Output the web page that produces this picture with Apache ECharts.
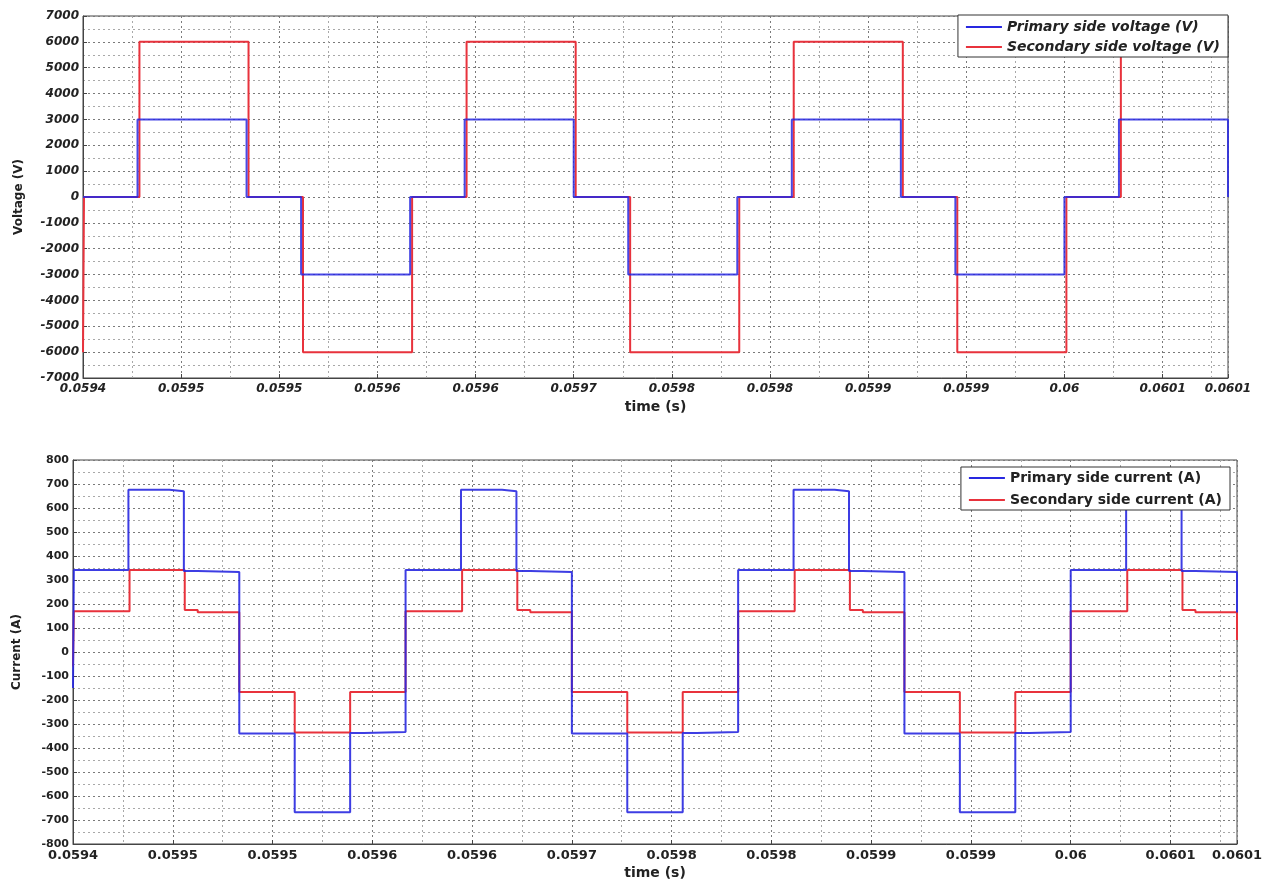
<!DOCTYPE html>
<html>
<head>
<meta charset="utf-8">
<script src="https://cdn.jsdelivr.net/npm/echarts/dist/echarts.min.js"></script>
<style>
html,body{margin:0;padding:0;background:#fff;}
#chart{width:1266px;height:884px;}
</style>
</head>
<body>
<div id="chart"></div>
<script>
// ---------- Data (time in s; step changes: value holds until next time) ----------
// Top plot: voltages
const tPrimaryV = [0.0594, 0.05943333, 0.0595, 0.05953333, 0.0596, 0.05963333, 0.0597, 0.05973333, 0.0598, 0.05983333, 0.0599, 0.05993333, 0.06, 0.06003333, 0.0601];
const primaryV  = [0, 3000, 0, -3000, 0, 3000, 0, -3000, 0, 3000, 0, -3000, 0, 3000, 0];
const tSecondaryV = [0.0594, 0.0594006, 0.0594345, 0.0595012, 0.0595345, 0.0596012, 0.0596345, 0.0597012, 0.0597345, 0.0598012, 0.0598345, 0.0599012, 0.0599345, 0.0600012, 0.0600345, 0.0601];
const secondaryV  = [-6000, 0, 6000, 0, -6000, 0, 6000, 0, -6000, 0, 6000, 0, -6000, 0, 6000, 6000];

// Bottom plot: currents
const tPrimaryI = [0.0594, 0.0594005, 0.05943333, 0.059458, 0.05946667, 0.059475, 0.0595, 0.05953333, 0.05956667, 0.059575,
                   0.0596, 0.05963333, 0.059658, 0.05966667, 0.059675, 0.0597, 0.05973333, 0.05976667, 0.059775,
                   0.0598, 0.05983333, 0.059858, 0.05986667, 0.059875, 0.0599, 0.05993333, 0.05996667, 0.059975,
                   0.06, 0.06003333, 0.060058, 0.06006667, 0.060075, 0.0601];
const primaryI  = [-150, 342, 676, 670, 338, 333, -340, -668, -338, -333,
                   342, 676, 670, 338, 333, -340, -668, -338, -333,
                   342, 676, 670, 338, 333, -340, -668, -338, -333,
                   342, 676, 670, 338, 333, 165];
const tSecondaryI = [0.0594, 0.0594005, 0.059434, 0.0594672, 0.059475, 0.0595, 0.05953333, 0.05956667,
                     0.0596, 0.059634, 0.0596672, 0.059675, 0.0597, 0.05973333, 0.05976667,
                     0.0598, 0.059834, 0.0598672, 0.059875, 0.0599, 0.05993333, 0.05996667,
                     0.06, 0.060034, 0.0600672, 0.060075, 0.0601];
const secondaryI  = [-60, 170, 342, 175, 166, -167, -335, -167,
                     170, 342, 175, 166, -167, -335, -167,
                     170, 342, 175, 166, -167, -335, -167,
                     170, 342, 175, 166, 50];

const seriesNames = {
  pv: 'Primary side voltage (V)', sv: 'Secondary side voltage (V)',
  pi: 'Primary side current (A)', si: 'Secondary side current (A)'
};
const xAxisName = 'time (s)';
const yNames = ['Voltage (V)', 'Current (A)'];

// ---------- Chart ----------
const FONT = 'DejaVu Sans';
const BLUE = '#2828e0';
const RED = '#e8323c';
const zip = (t, v) => t.map((x, i) => [x, v[i]]);
const tFmt = v => String(parseFloat(v.toFixed(4)));
const yFmt = v => String(Math.round(v));

function xAxis(grid, italic) {
  return {
    type: 'value', gridIndex: grid, min: 0.0594, max: 0.0601, interval: 0.00006,
    name: xAxisName, nameLocation: 'middle', nameGap: 22,
    nameTextStyle: {fontFamily: FONT, fontWeight: 'bold', fontSize: 14, color: '#222'},
    axisLabel: {formatter: tFmt, fontFamily: FONT, fontWeight: 'bold', fontStyle: italic ? 'italic' : 'normal',
                fontSize: grid === 0 ? 12 : 13, color: '#222', margin: 5, showMaxLabel: true, showMinLabel: true},
    axisLine: {onZero: false, lineStyle: {color: '#444'}},
    axisTick: {inside: true, length: 4, lineStyle: {color: '#444'}},
    minorTick: {show: true, splitNumber: 2, length: 0},
    splitLine: {show: true, lineStyle: {color: '#7a7a7a', type: [2, 3], width: 1}},
    minorSplitLine: {show: true, lineStyle: {color: '#a8a8a8', type: [2, 3], width: 1}}
  };
}
function yAxis(grid, min, max, interval, italic, name, gap) {
  return {
    type: 'value', gridIndex: grid, min: min, max: max, interval: interval,
    name: name, nameLocation: 'middle', nameGap: gap, nameRotate: 90,
    nameTextStyle: {fontFamily: FONT, fontWeight: 'bold', fontSize: 12, color: '#222'},
    axisLabel: {formatter: yFmt, fontFamily: FONT, fontWeight: 'bold', fontStyle: italic ? 'italic' : 'normal',
                fontSize: grid === 0 ? 12 : 11, color: '#222', margin: 4},
    axisLine: {show: true, onZero: false, lineStyle: {color: '#444'}},
    axisTick: {show: true, inside: true, length: 4, lineStyle: {color: '#444'}},
    minorTick: {show: true, splitNumber: 2, length: 0},
    splitLine: {show: true, lineStyle: {color: '#7a7a7a', type: [2, 3], width: 1}},
    minorSplitLine: {show: true, lineStyle: {color: '#a8a8a8', type: [2, 3], width: 1}}
  };
}
function lineSeries(name, data, color, xi, z, opacity) {
  return {
    name: name, type: 'line', step: 'end', data: data, xAxisIndex: xi, yAxisIndex: xi,
    symbol: 'none', showSymbol: false, legendIcon: 'rect', z: z, animation: false,
    lineStyle: {color: color, width: 2, opacity: opacity}, itemStyle: {color: color}
  };
}

const chart = echarts.init(document.getElementById('chart'), null, {renderer: 'canvas'});
chart.setOption({
  backgroundColor: '#ffffff',
  animation: false,
  grid: [
    {left: 83, top: 16, right: 38, bottom: 506, show: true, borderColor: '#444', borderWidth: 1, backgroundColor: '#fff'},
    {left: 73, top: 460, right: 29, bottom: 40, show: true, borderColor: '#444', borderWidth: 1, backgroundColor: '#fff'}
  ],
  xAxis: [xAxis(0, true), xAxis(1, false)],
  yAxis: [
    yAxis(0, -7000, 7000, 1000, true, yNames[0], 58),
    yAxis(1, -800, 800, 100, false, yNames[1], 50)
  ],
  legend: [
    {data: [seriesNames.pv, seriesNames.sv], orient: 'vertical', right: 38, top: 15,
     backgroundColor: '#fff', borderColor: '#333', borderWidth: 1, padding: [5, 8, 3, 8],
     itemWidth: 36, itemHeight: 2, itemGap: 6, icon: 'rect',
     textStyle: {fontFamily: FONT, fontWeight: 'bold', fontStyle: 'italic', fontSize: 14, color: '#222', lineHeight: 14}},
    {data: [seriesNames.pi, seriesNames.si], orient: 'vertical', right: 36, top: 467,
     backgroundColor: '#fff', borderColor: '#333', borderWidth: 1, padding: [4, 8, 3, 8],
     itemWidth: 36, itemHeight: 2, itemGap: 8, icon: 'rect',
     textStyle: {fontFamily: FONT, fontWeight: 'bold', fontSize: 14, color: '#222', lineHeight: 14}}
  ],
  series: [
    lineSeries(seriesNames.pv, zip(tPrimaryV, primaryV), BLUE, 0, 3, 0.85),
    lineSeries(seriesNames.sv, zip(tSecondaryV, secondaryV), RED, 0, 2, 1),
    lineSeries(seriesNames.pi, zip(tPrimaryI, primaryI), BLUE, 1, 3, 0.9),
    lineSeries(seriesNames.si, zip(tSecondaryI, secondaryI), RED, 1, 2, 1)
  ]
});
</script>
</body>
</html>
